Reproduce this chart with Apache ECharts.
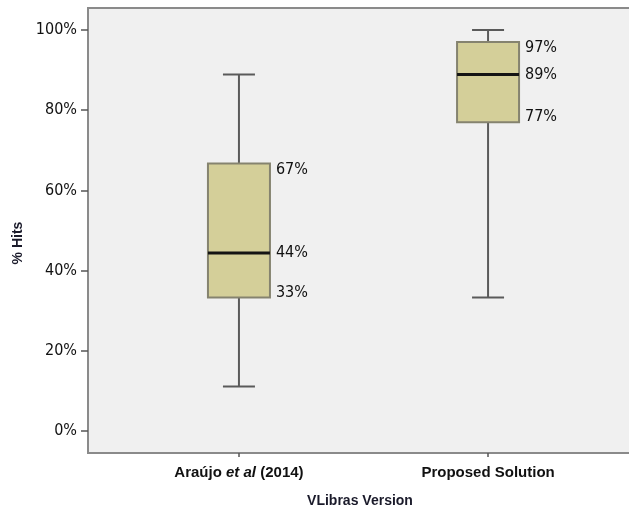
<!DOCTYPE html>
<html>
<head>
<meta charset="utf-8">
<script src="https://cdn.jsdelivr.net/npm/echarts@6/dist/echarts.min.js"></script>
<style>
  html, body { margin: 0; padding: 0; background: #ffffff; }
  #chart { width: 629px; height: 511px; }
</style>
</head>
<body>
<div id="chart"></div>
<script>
// VLibras versions compared on % hits (box plots: min, Q1, median, Q3, max)
const categories = ['Araújo et al (2014)', 'Proposed Solution'];
const minValues    = [11.1, 33.3];
const q1Values     = [33.3, 77];
const medianValues = [44.4, 88.9];
const q3Values     = [66.7, 97];
const maxValues    = [88.9, 100];
const yTicks = [0, 20, 40, 60, 80, 100];

const narrowFont = "'Liberation Sans Narrow', 'DejaVu Sans Condensed', 'Liberation Sans', sans-serif";
const boldFont = "'Liberation Sans', 'Open Sans', sans-serif";

const boxData = categories.map((c, i) => [i, minValues[i], q1Values[i], medianValues[i], q3Values[i], maxValues[i]]);

const BOX_W = 62, CAP_W = 32;
const whiskerStyle = { stroke: '#5a5a5a', lineWidth: 2 };

function renderBox(params, api) {
  const x = api.value(0);
  const pMin = api.coord([x, api.value(1)]);
  const pQ1 = api.coord([x, api.value(2)]);
  const pMed = api.coord([x, api.value(3)]);
  const pQ3 = api.coord([x, api.value(4)]);
  const pMax = api.coord([x, api.value(5)]);
  const cx = pQ1[0];
  const left = cx - BOX_W / 2, right = cx + BOX_W / 2;
  const labelX = right + 6;
  const labelStyle = (txt, y) => ({
    type: 'text',
    style: {
      text: txt, x: labelX, y: y,
      fill: '#111111', font: '16px ' + narrowFont,
      textVerticalAlign: 'middle', textAlign: 'left'
    }
  });
  const pct = v => Math.round(v) + '%';
  return {
    type: 'group',
    children: [
      { type: 'line', shape: { x1: cx, y1: pMax[1], x2: cx, y2: pQ3[1] }, style: whiskerStyle },
      { type: 'line', shape: { x1: cx, y1: pQ1[1], x2: cx, y2: pMin[1] }, style: whiskerStyle },
      { type: 'line', shape: { x1: cx - CAP_W / 2, y1: pMax[1], x2: cx + CAP_W / 2, y2: pMax[1] }, style: whiskerStyle },
      { type: 'line', shape: { x1: cx - CAP_W / 2, y1: pMin[1], x2: cx + CAP_W / 2, y2: pMin[1] }, style: whiskerStyle },
      {
        type: 'rect',
        shape: { x: left, y: pQ3[1], width: BOX_W, height: pQ1[1] - pQ3[1] },
        style: { fill: '#d4cf99', stroke: '#85836f', lineWidth: 2 }
      },
      { type: 'line', shape: { x1: left, y1: pMed[1], x2: right, y2: pMed[1] }, style: { stroke: '#141414', lineWidth: 3 } },
      labelStyle(pct(api.value(4)), pQ3[1] + 6),
      labelStyle(pct(api.value(3)), pMed[1]),
      labelStyle(pct(api.value(2)), pQ1[1] - 5)
    ]
  };
}

const chart = echarts.init(document.getElementById('chart'), null, { renderer: 'canvas' });
chart.setOption({
  animation: false,
  backgroundColor: '#ffffff',
  grid: {
    left: 88, top: 8, width: 551, height: 445,
    outerBoundsMode: 'none',
    containLabel: false,
    show: true, backgroundColor: '#f0f0f0', borderColor: '#8a8a8a', borderWidth: 2
  },
  xAxis: {
    type: 'value',
    min: -0.606, max: 1.606,
    splitLine: { show: false },
    axisLine: { show: true, onZero: false, lineStyle: { color: '#8a8a8a', width: 2 } },
    axisTick: { show: true, customValues: [0, 1], length: 4, lineStyle: { color: '#555555', width: 1.5 } },
    axisLabel: {
      customValues: [0, 1],
      margin: 12,
      formatter: v => {
        const name = categories[Math.round(v)] || '';
        const parts = name.split('et al');
        return parts.length > 1 ? '{b|' + parts[0] + '}{i|et al}{b|' + parts[1] + '}' : '{b|' + name + '}';
      },
      rich: {
        b: { fontFamily: boldFont, fontWeight: 'bold', fontSize: 15, color: '#111111' },
        i: { fontFamily: boldFont, fontWeight: 'bold', fontStyle: 'italic', fontSize: 15, color: '#111111' }
      }
    }
  },
  yAxis: {
    type: 'value',
    min: -5.5, max: 105.5,
    splitLine: { show: false },
    axisLine: { show: true, onZero: false, lineStyle: { color: '#8a8a8a', width: 2 } },
    axisTick: { show: true, customValues: yTicks, length: 7, lineStyle: { color: '#555555', width: 1.5 } },
    axisLabel: {
      customValues: yTicks,
      margin: 11,
      formatter: v => v + '%',
      fontFamily: narrowFont, fontSize: 16, color: '#111111'
    }
  },
  graphic: [
    {
      type: 'text',
      x: 18, y: 243, rotation: Math.PI / 2,
      style: { text: '% Hits', font: 'bold 14px ' + boldFont, fill: '#1a1a2a', align: 'center', verticalAlign: 'middle' }
    },
    {
      type: 'text',
      x: 360, y: 501,
      style: { text: 'VLibras Version', font: 'bold 14px ' + boldFont, fill: '#1a1a2a', align: 'center', verticalAlign: 'middle' }
    }
  ],
  series: [{
    type: 'custom',
    renderItem: renderBox,
    data: boxData,
    encode: { x: 0, y: [1, 2, 3, 4, 5] },
    clip: true
  }]
});
</script>
</body>
</html>
